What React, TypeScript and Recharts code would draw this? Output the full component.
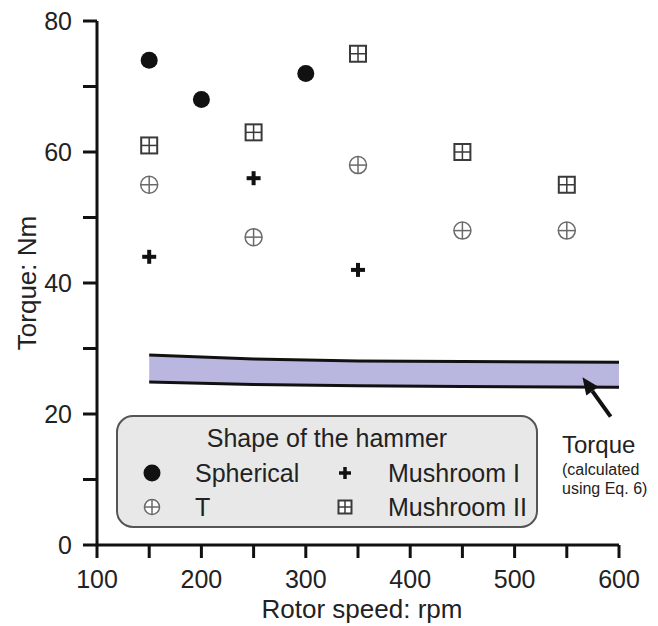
import React from "react"
import { ComposedChart, Scatter, XAxis, YAxis, Area, Line, ReferenceLine } from "recharts"

// axis ticks
const speedTicks = [100, 150, 200, 250, 300, 350, 400, 450, 500, 550, 600]
const torqueTicks = [0, 10, 20, 30, 40, 50, 60, 70, 80]

// measured torque per hammer shape
const sphericalSpeed = [150, 200, 300]
const sphericalTorque = [74, 68, 72]
const mushroomISpeed = [150, 250, 350]
const mushroomITorque = [44, 56, 42]
const tSpeed = [150, 250, 350, 450, 550]
const tTorque = [55, 47, 58, 48, 48]
const mushroomIISpeed = [150, 250, 350, 450, 550]
const mushroomIITorque = [61, 63, 75, 60, 55]

// calculated torque band (Eq. 6)
const bandSpeed = [150, 250, 350, 450, 600]
const bandUpper = [29.0, 28.4, 28.1, 28.0, 27.9]
const bandLower = [24.9, 24.5, 24.3, 24.2, 24.1]

// arrow pointing at the band
const arrowFrom = { x: 592, y: 19.6 }
const arrowTo = { x: 565, y: 25.6 }

const toPoints = (xs: number[], ys: number[]) => xs.map((x, i) => ({ x, y: ys[i] }))

const sphericalData = toPoints(sphericalSpeed, sphericalTorque)
const mushroomIData = toPoints(mushroomISpeed, mushroomITorque)
const tData = toPoints(tSpeed, tTorque)
const mushroomIIData = toPoints(mushroomIISpeed, mushroomIITorque)
const bandData = bandSpeed.map((x, i) => ({ x, upper: bandUpper[i], lower: bandLower[i], range: [bandLower[i], bandUpper[i]] }))

const FONT = "'Liberation Sans', Arial, Helvetica, sans-serif"
const INK = "#111"
const TEXT = "#222"

const Dot = ({ cx, cy, r = 8.5 }: any) => <circle cx={cx} cy={cy} r={r} fill={INK} />

const Plus = ({ cx, cy, s = 7, w = 4 }: any) => (
  <g stroke={INK} strokeWidth={w}>
    <line x1={cx - s} y1={cy} x2={cx + s} y2={cy} />
    <line x1={cx} y1={cy - s} x2={cx} y2={cy + s} />
  </g>
)

const CircleCross = ({ cx, cy, r = 8.5 }: any) => (
  <g stroke="#6a6a6a" strokeWidth={1.5} fill="#fff">
    <circle cx={cx} cy={cy} r={r} />
    <line x1={cx - r} y1={cy} x2={cx + r} y2={cy} />
    <line x1={cx} y1={cy - r} x2={cx} y2={cy + r} />
  </g>
)

const SquareCross = ({ cx, cy, s = 8 }: any) => (
  <g stroke="#3a3a3a" fill="#fff">
    <rect x={cx - s} y={cy - s} width={s * 2} height={s * 2} strokeWidth={2} />
    <line x1={cx - s} y1={cy} x2={cx + s} y2={cy} strokeWidth={1.5} />
    <line x1={cx} y1={cy - s} x2={cx} y2={cy + s} strokeWidth={1.5} />
  </g>
)

const Arrow = ({ x1, y1, x2, y2 }: any) => {
  // x1,y1 = tail, x2,y2 = tip
  const ang = Math.atan2(y2 - y1, x2 - x1)
  const len = 17
  const half = 7.5
  const bx = x2 - len * Math.cos(ang)
  const by = y2 - len * Math.sin(ang)
  const px = -Math.sin(ang) * half
  const py = Math.cos(ang) * half
  return (
    <g>
      <line x1={x1} y1={y1} x2={bx} y2={by} stroke={INK} strokeWidth={4} />
      <polygon points={`${x2},${y2} ${bx + px},${by + py} ${bx - px},${by - py}`} fill={INK} />
    </g>
  )
}

const YTick = ({ x, y, payload }: any) =>
  payload.value % 20 === 0 ? (
    <text x={x} y={y + 9} textAnchor="end" fontSize={25} fill={TEXT} fontFamily={FONT}>
      {payload.value}
    </text>
  ) : (
    <g />
  )

const XTick = ({ x, y, payload }: any) =>
  payload.value % 100 === 0 ? (
    <text x={x} y={y + 18} textAnchor="middle" fontSize={25} fill={TEXT} fontFamily={FONT}>
      {payload.value}
    </text>
  ) : (
    <g />
  )

export default function App() {
  return (
    <div style={{ position: "absolute", left: 0, top: 0, width: 658, height: 626, fontFamily: FONT, background: "#fff" }}>
      <ComposedChart width={658} height={626} margin={{ top: 21, right: 39, left: 0, bottom: 0 }}>
        <XAxis
          type="number"
          dataKey="x"
          domain={[100, 600]}
          ticks={speedTicks}
          allowDataOverflow
          height={81}
          tickSize={13}
          tickMargin={12}
          tick={<XTick />}
          axisLine={{ stroke: INK, strokeWidth: 3 }}
          tickLine={{ stroke: INK, strokeWidth: 3 }}
        />
        <YAxis
          type="number"
          dataKey="y"
          domain={[0, 80]}
          ticks={torqueTicks}
          allowDataOverflow
          width={97}
          tickSize={14}
          tickMargin={11}
          tick={<YTick />}
          axisLine={{ stroke: INK, strokeWidth: 3 }}
          tickLine={{ stroke: INK, strokeWidth: 3 }}
        />
        <Area data={bandData} dataKey="range" type="linear" fill="#b9b7df" fillOpacity={1} stroke="none" isAnimationActive={false} />
        <Line data={bandData} dataKey="upper" type="linear" stroke={INK} strokeWidth={3} dot={false} isAnimationActive={false} />
        <Line data={bandData} dataKey="lower" type="linear" stroke={INK} strokeWidth={3} dot={false} isAnimationActive={false} />
        <ReferenceLine segment={[arrowFrom, arrowTo]} shape={<Arrow />} ifOverflow="visible" />
        <Scatter data={sphericalData} shape={<Dot />} isAnimationActive={false} />
        <Scatter data={mushroomIData} shape={<Plus />} isAnimationActive={false} />
        <Scatter data={tData} shape={<CircleCross />} isAnimationActive={false} />
        <Scatter data={mushroomIIData} shape={<SquareCross />} isAnimationActive={false} />
      </ComposedChart>

      {/* titles, annotation and legend */}
      <svg width={658} height={626} style={{ position: "absolute", left: 0, top: 0, pointerEvents: "none" }} fontFamily={FONT} fill={TEXT}>
        <text x={36} y={283} fontSize={26} textAnchor="middle" transform="rotate(-90, 36, 283)">Torque: Nm</text>
        <text x={362} y={618} fontSize={26} textAnchor="middle">Rotor speed: rpm</text>

        <text x={562} y={453} fontSize={24}>Torque</text>
        <text x={562} y={475} fontSize={16}>(calculated</text>
        <text x={562} y={494} fontSize={16}>using Eq. 6)</text>

        <rect x={117} y={416} width={420} height={111} rx={16} fill="#e8e8e8" stroke="#555" strokeWidth={2} />
        <text x={327} y={447} fontSize={25} textAnchor="middle">Shape of the hammer</text>
        <Dot cx={152} cy={473} r={8.5} />
        <CircleCross cx={152} cy={507} r={7.5} />
        <Plus cx={345} cy={473} s={6} w={3.5} />
        <SquareCross cx={345} cy={507} s={6.5} />
        <text x={195} y={482} fontSize={25}>Spherical</text>
        <text x={195} y={516} fontSize={25}>T</text>
        <text x={388} y={482} fontSize={25}>Mushroom I</text>
        <text x={388} y={516} fontSize={25}>Mushroom II</text>
      </svg>
    </div>
  )
}
